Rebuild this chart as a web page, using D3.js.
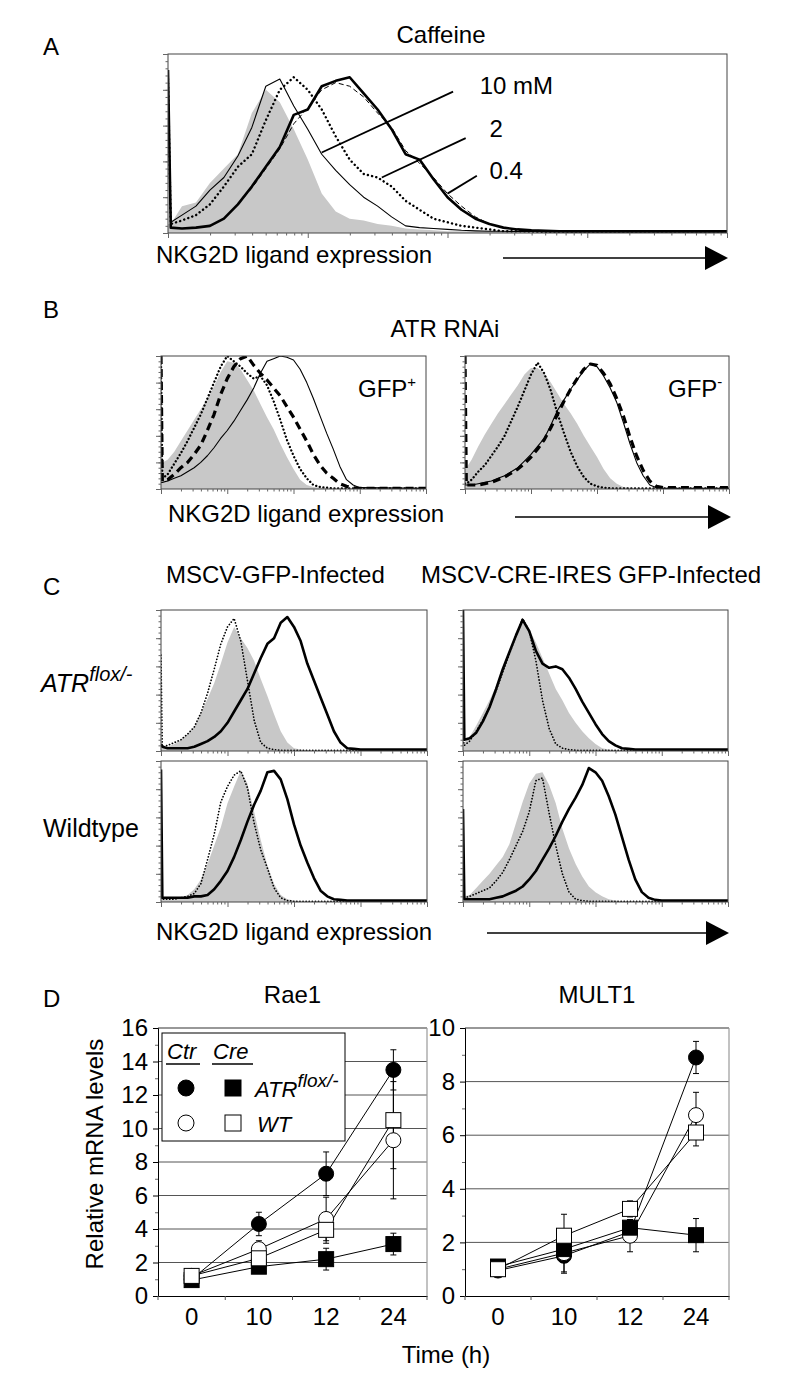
<!DOCTYPE html>
<html><head><meta charset="utf-8">
<script src="https://cdn.jsdelivr.net/npm/d3@7/dist/d3.min.js"></script>
<style>
html,body{margin:0;padding:0;background:#fff;}
svg text{font-family:"Liberation Sans",Arial,Helvetica,sans-serif;fill:#000;}
</style></head>
<body>
<svg id="fig" width="800" height="1388" viewBox="0 0 800 1388"></svg>
<script>
// ================= DATA =================
// histogram channel positions (log decades of fluorescence)
const bins = [0,0.02,0.1,0.2,0.3,0.4,0.5,0.6,0.7,0.8,0.9,1.0,1.1,1.2,1.3,1.4,1.5,1.6,1.7,1.8,1.9,2.0,2.1,2.2,2.3,2.4,2.5,2.6,2.7,2.8,2.9,3.0,4.0];

// Panel A: Caffeine (% of max events)
const caffGray   = [5,5, 15,17,28,36,44,67,80,73,58,41, 22,12,8,7,5,4,2.5,2,1.5,1, 1,1,1,0.8,0.8,0.7,0.7,0.6,0.6,0.6, 0.5];
const caff10mM   = [88,6, 10,15,24,31,43,59,82,86,71,58, 44,35,27,20,15,9,4,3,2.5,2, 1.5,1.2,1,1,0.8,0.8,0.7,0.7,0.6,0.6, 0.5];
const caff2mM    = [86,5, 7,10,16,26,37,44,63,80,87,80, 69,54,41,33,31,26,18,13,8,6, 4,3,2,1,1,0.8,0.7,0.7,0.6,0.6, 0.5];
const caffNone   = [91,3, 2.5,3,4,8,16,26,37,48,66,69, 82,85,87,78,69,58,44,41,30,20, 13,8,5,3,2,1.5,1.2,1,1,1, 1];
const caff04mM   = [90,3, 2.5,3,4,8,16,25,36,47,61,70, 80,84,82,76,67,59,46,39,31,22, 15,9,5,3,2,1.5,1.2,1,1,1, 1];

// Panel B: ATR RNAi, GFP+ and GFP-
const gfpPosGray   = [20,20, 22,28,36,44,52,60,68,77,88,96, 95,90,82,74,64,54,45,34,24,15, 7,3,1.5,1,0.5,0.5,0.5,0.5,0.5,0.5, 0.5];
const gfpPosDotted = [100,8, 11,19,27,36,46,56,68,80,92,100, 96,92,87,83,85,78,66,52,37,25, 15,8,3,1.5,1,0.5,0.5,0.5,0.5,0.5, 0.5];
const gfpPosDashed = [100,6, 7,11,16,20,26,33,44,56,71,83, 92,98,100,93,87,82,76,70,62,54, 45,36,26,18,12,8,4,2,1,0.5, 0.5];
const gfpPosThin   = [5,5, 6,8,10,13,16,20,25,31,38,44, 51,59,67,76,87,96,98,100,99,97, 90,80,68,55,42,30,17,7,3,1, 0.5];
const gfpNegGray   = [15,16, 22,32,41,49,57,64,71,78,86,91, 91,87,80,72,64,57,49,40,32,24, 15,8,4,1.5,1,0.5,0.5,0.5,0.5,0.5, 0.5];
const gfpNegDotted = [4,4, 7,13,18,25,32,40,51,62,74,86, 95,87,74,57,42,28,17,9,4,2, 1,0.5,0.5,0.5,0.5,0.5,0.5,0.5,0.5,0.5, 0.5];
const gfpNegThin   = [3,3, 3,4,5,6,8,10,13,16,21,26, 32,38,48,59,67,75,82,89,94,92, 85,76,65,50,34,20,10,3,1,0.5, 0.5];
const gfpNegDashed = [100,3, 3,3,4,5,7,9,12,15,19,24, 30,37,46,56,66,75,83,90,94,93, 87,79,68,55,39,25,14,6,2,1, 1];

// Panel C: ATRflox/- and wildtype cells, MSCV-GFP vs MSCV-CRE-IRES GFP
const gfpFloxGray   = [2,2, 3,5,8,12,17,27,37,48,62,77, 88,80,73,64,51,39,26,14,6,2, 1,0.5,0.5,0.5,0.5,0.5,0.5,0.5,0.5,0.5, 0.5];
const gfpFloxDotted = [68,3, 4,6,8,12,17,27,41,58,76,88, 94,78,50,22,6,2,1,0.5,0.5,0.5, 0.5,0.5,0.5,0.5,0.5,0.5,0.5,0.5,0.5,0.5, 0.5];
const gfpFloxThick  = [5,3, 2,2,2,2,3,5,7,10,14,20, 28,36,44,55,66,76,80,91,95,88, 78,62,50,38,26,14,6,2,1.5,1, 1];
const creFloxGray   = [5,6, 10,18,27,36,46,58,70,82,91,86, 77,66,55,44,36,27,20,14,9,5, 2,1,0.5,0.5,0.5,0.5,0.5,0.5,0.5,0.5, 0.5];
const creFloxDotted = [8,4, 7,14,22,31,43,56,69,82,94,85, 64,36,16,5,2,1,0.5,0.5,0.5,0.5, 0.5,0.5,0.5,0.5,0.5,0.5,0.5,0.5,0.5,0.5, 0.5];
const creFloxThick  = [100,8, 9,13,21,31,44,58,70,82,93,85, 71,62,59,60,58,52,44,35,27,19, 12,7,4,2,1.5,1,1,1,1,1, 1];
const gfpWtGray     = [2,2, 2,2,3,5,9,16,27,40,53,70, 82,93,84,64,44,26,13,5,2,1, 0.5,0.5,0.5,0.5,0.5,0.5,0.5,0.5,0.5,0.5, 0.5];
const gfpWtDotted   = [3,2, 2,2,3,4,6,13,30,48,71,82, 90,93,81,56,37,24,10,3,1,0.5, 0.5,0.5,0.5,0.5,0.5,0.5,0.5,0.5,0.5,0.5, 0.5];
const gfpWtThick    = [94,3, 3,3,3,3,4,4,5,9,15,22, 32,44,57,69,79,92,93,87,73,55, 40,28,17,8,4,2,1.5,1,1,1, 1];
const creWtGray     = [3,4, 5,10,15,20,26,32,41,56,71,84, 91,92,83,70,52,38,27,18,11,7, 4,2,1,0.5,0.5,0.5,0.5,0.5,0.5,0.5, 0.5];
const creWtDotted   = [5,3, 4,6,8,10,15,21,30,40,50,64, 86,88,63,40,20,7,2,1,0.5,0.5, 0.5,0.5,0.5,0.5,0.5,0.5,0.5,0.5,0.5,0.5, 0.5];
const creWtThick    = [66,2, 2,2,2,2,3,4,6,8,11,16, 22,30,38,47,57,66,74,83,95,92, 86,75,62,46,30,16,7,3,1.5,1, 1];

// Panel D: relative mRNA levels
const times = ["0","10","12","24"];
const rae1CtrFlox = [1.0, 4.3, 7.3, 13.5];   const rae1CtrFloxErr = [0.15, 0.7, 1.3, 1.2];
const rae1CreFlox = [0.95, 1.75, 2.2, 3.1];  const rae1CreFloxErr = [0.1, 0.2, 0.65, 0.65];
const rae1CtrWT   = [1.2, 2.8, 4.6, 9.3];    const rae1CtrWTErr   = [0.15, 0.5, 1.3, 3.5];
const rae1CreWT   = [1.2, 2.25, 3.95, 10.5]; const rae1CreWTErr   = [0.1, 0.3, 0.8, 2.9];
const mult1CtrFlox = [0.95, 1.5, 2.4, 8.9];  const mult1CtrFloxErr = [0.1, 0.6, 0.4, 0.6];
const mult1CreFlox = [1.1, 1.75, 2.55, 2.27];const mult1CreFloxErr = [0.1, 0.5, 0.3, 0.62];
const mult1CtrWT   = [1.0, 1.6, 2.25, 6.75]; const mult1CtrWTErr   = [0.1, 0.75, 0.6, 0.85];
const mult1CreWT   = [1.0, 2.25, 3.25, 6.1]; const mult1CreWTErr   = [0.1, 0.8, 0.3, 0.5];
const rae1Ticks  = [0,2,4,6,8,10,12,14,16];
const mult1Ticks = [0,2,4,6,8,10];

// ================= DRAWING =================
const svg = d3.select("#fig");
svg.append("rect").attr("width",800).attr("height",1388).attr("fill","#fff");
const FS = 24;

function txt(x, y, s, o = {}) {
  const t = svg.append("text").attr("x", x).attr("y", y)
    .attr("font-size", o.size || FS)
    .attr("text-anchor", o.anchor || "start")
    .attr("font-style", o.italic ? "italic" : null)
    .text(s);
  if (o.sup) {
    t.append("tspan").attr("dy", o.supDy || -10).attr("font-size", o.supSize || 15).text(o.sup);
  }
  return t;
}
function arrow(x1, x2, y) {
  svg.append("line").attr("x1", x1).attr("x2", x2 - 18).attr("y1", y).attr("y2", y)
    .attr("stroke", "#000").attr("stroke-width", 1.6);
  svg.append("path").attr("d", `M${x2},${y} L${x2-23},${y-12} L${x2-23},${y+12} Z`).attr("fill", "#000");
}

const STY = {
  fill:   {fill: true},
  thin:   {sw: 1.1},
  thick:  {sw: 2.6},
  dashT:  {sw: 1, dash: "5,3"},
  dotA:   {sw: 2.4, dash: "0.1,4.2", cap: "round"},
  dotB:   {sw: 2.3, dash: "0.1,3.6", cap: "round"},
  dashB:  {sw: 3.2, dash: "8,5"},
  dotC:   {sw: 1.7, dash: "0.1,3", cap: "round"}
};

let clipCount = 0;
function histogram(box, curves) {
  const x = d3.scaleLinear().domain([0, 4]).range([box.x, box.x + box.w]);
  const y = d3.scaleLinear().domain([0, 100]).range([box.y + box.h, box.y]);
  const g = svg.append("g");
  const id = "clip" + (clipCount++);
  g.append("clipPath").attr("id", id).append("rect")
    .attr("x", box.x).attr("y", box.y).attr("width", box.w).attr("height", box.h);
  const inner = g.append("g").attr("clip-path", `url(#${id})`);
  curves.forEach(([vals, st]) => {
    if (st.fill) {
      inner.append("path").datum(vals).attr("fill", "#c8c8c8")
        .attr("d", d3.area().x((d, i) => x(bins[i])).y0(y(0)).y1(d => y(d)));
    } else {
      inner.append("path").datum(vals).attr("fill", "none").attr("stroke", "#000")
        .attr("stroke-width", st.sw).attr("stroke-dasharray", st.dash || null)
        .attr("stroke-linecap", st.cap || "butt").attr("stroke-linejoin", "round")
        .attr("d", d3.line().x((d, i) => x(bins[i])).y(d => y(d)));
    }
  });
  g.append("rect").attr("x", box.x).attr("y", box.y).attr("width", box.w).attr("height", box.h)
    .attr("fill", "none").attr("stroke", "#444").attr("stroke-width", 1);
  const clean = s => { s.select(".domain").remove(); s.selectAll("line").attr("stroke", "#666"); };
  g.append("g").attr("transform", `translate(${box.x},0)`)
    .call(d3.axisLeft(y).tickValues(d3.range(0, 101, 4)).tickSize(2.5).tickFormat("")).call(clean);
  g.append("g").attr("transform", `translate(${box.x},0)`)
    .call(d3.axisLeft(y).tickValues(d3.range(0, 101, 20)).tickSize(5).tickFormat("")).call(clean);
  const minor = [];
  for (let n = 0; n < 4; n++) for (let k = 2; k <= 9; k++) minor.push(n + Math.log10(k));
  g.append("g").attr("transform", `translate(0,${box.y + box.h})`)
    .call(d3.axisBottom(x).tickValues(minor).tickSize(2.5).tickFormat("")).call(clean);
  g.append("g").attr("transform", `translate(0,${box.y + box.h})`)
    .call(d3.axisBottom(x).tickValues([0, 1, 2, 3, 4]).tickSize(5).tickFormat("")).call(clean);
  return {x, y, g};
}

// ---------- Panel A ----------
txt(43, 55, "A");
txt(441, 43, "Caffeine", {anchor: "middle"});
const pA = histogram({x: 168, y: 54, w: 559, h: 179}, [
  [caffGray, STY.fill], [caff10mM, STY.thin], [caff2mM, STY.dotA],
  [caff04mM, STY.dashT], [caffNone, STY.thick]
]);
const annA = [
  {label: "10 mM", from: [1.10, 45], to: [2.04, 79], at: [2.23, 77.5]},
  {label: "2",     from: [1.53, 31], to: [2.13, 53], at: [2.30, 53.5]},
  {label: "0.4",   from: [2.00, 22], to: [2.21, 32], at: [2.30, 30]}
];
annA.forEach(a => {
  svg.append("line").attr("x1", pA.x(a.from[0])).attr("y1", pA.y(a.from[1]))
    .attr("x2", pA.x(a.to[0])).attr("y2", pA.y(a.to[1])).attr("stroke", "#000").attr("stroke-width", 1.8);
  txt(pA.x(a.at[0]), pA.y(a.at[1]), a.label);
});
txt(156, 263, "NKG2D ligand expression");
arrow(503, 728, 258);

// ---------- Panel B ----------
txt(43, 318, "B");
txt(445, 337, "ATR RNAi", {anchor: "middle"});
histogram({x: 161, y: 356, w: 265, h: 133}, [
  [gfpPosGray, STY.fill], [gfpPosThin, STY.thin], [gfpPosDotted, STY.dotB], [gfpPosDashed, STY.dashB]
]);
histogram({x: 465, y: 356, w: 264, h: 133}, [
  [gfpNegGray, STY.fill], [gfpNegDotted, STY.dotB], [gfpNegThin, STY.thin], [gfpNegDashed, STY.dashB]
]);
txt(358, 397, "GFP", {sup: "+", supDy: -10, supSize: 15});
txt(668, 397, "GFP", {sup: "-", supDy: -10, supSize: 15});
txt(168, 522, "NKG2D ligand expression");
arrow(515, 731, 517);

// ---------- Panel C ----------
txt(43, 595, "C");
txt(166, 583, "MSCV-GFP-Infected");
txt(421, 583, "MSCV-CRE-IRES GFP-Infected");
histogram({x: 161, y: 610, w: 266, h: 141}, [
  [gfpFloxGray, STY.fill], [gfpFloxDotted, STY.dotC], [gfpFloxThick, STY.thick]
]);
histogram({x: 463, y: 610, w: 265, h: 141}, [
  [creFloxGray, STY.fill], [creFloxDotted, STY.dotC], [creFloxThick, STY.thick]
]);
histogram({x: 161, y: 761, w: 266, h: 141}, [
  [gfpWtGray, STY.fill], [gfpWtDotted, STY.dotC], [gfpWtThick, STY.thick]
]);
histogram({x: 463, y: 761, w: 265, h: 141}, [
  [creWtGray, STY.fill], [creWtDotted, STY.dotC], [creWtThick, STY.thick]
]);
txt(41, 692, "ATR", {italic: true, size: 25, sup: "flox/-", supDy: -11, supSize: 20});
txt(43, 837, "Wildtype", {size: 25});
txt(156, 940, "NKG2D ligand expression");
arrow(487, 729, 933);

// ---------- Panel D ----------
txt(43, 1007, "D");
const SER = (v, e, shape, filled, key) => ({v, e, shape, filled, key});
function linePlot(box, ymax, yTicks, series, title) {
  const x = d3.scaleBand().domain(times).range([box.x, box.x + box.w]);
  const y = d3.scaleLinear().domain([0, ymax]).range([box.y + box.h, box.y]);
  const cx = t => x(t) + x.bandwidth() / 2;
  const g = svg.append("g");
  txt((box.x + box.x + box.w) / 2, 1003, title, {anchor: "middle"});
  g.selectAll(".grid").data(yTicks.filter(t => t > 0 && t < ymax)).join("line")
    .attr("x1", box.x).attr("x2", box.x + box.w).attr("y1", d => y(d)).attr("y2", d => y(d))
    .attr("stroke", "#555").attr("stroke-width", 1);
  g.append("line").attr("x1", box.x).attr("x2", box.x + box.w).attr("y1", y(ymax)).attr("y2", y(ymax))
    .attr("stroke", "#333").attr("stroke-width", 1.2);
  g.append("line").attr("x1", box.x + box.w).attr("x2", box.x + box.w).attr("y1", y(ymax)).attr("y2", y(0))
    .attr("stroke", "#999").attr("stroke-width", 1.2);
  const ya = g.append("g").attr("transform", `translate(${box.x},0)`)
    .call(d3.axisLeft(y).tickValues(d3.range(1, ymax, 2)).tickSize(3).tickFormat(""));
  ya.select(".domain").remove();
  ya.selectAll("line").attr("stroke", "#666");
  const yb = g.append("g").attr("transform", `translate(${box.x},0)`)
    .call(d3.axisLeft(y).tickValues(yTicks).tickSize(5).tickPadding(5));
  yb.select(".domain").attr("stroke", "#000");
  yb.selectAll("text").attr("font-size", FS).attr("font-family", null);
  const xb = g.append("g").attr("transform", `translate(0,${box.y + box.h})`)
    .call(d3.axisBottom(x).tickSize(0).tickPadding(12));
  xb.select(".domain").attr("stroke", "#000");
  xb.selectAll("text").attr("font-size", FS).attr("font-family", null);
  g.selectAll(".bt").data(d3.range(times.length + 1)).join("line")
    .attr("x1", i => box.x + i * x.step()).attr("x2", i => box.x + i * x.step())
    .attr("y1", y(0)).attr("y2", y(0) + 4).attr("stroke", "#555");
  series.forEach(s => {
    g.append("path").datum(s.v).attr("fill", "none").attr("stroke", "#000").attr("stroke-width", 1)
      .attr("d", d3.line().x((d, i) => cx(times[i])).y(d => y(d)));
  });
  series.forEach(s => {
    s.v.forEach((val, i) => {
      const px = cx(times[i]);
      const lo = y(val - s.e[i]), hi = y(val + s.e[i]);
      g.append("line").attr("x1", px).attr("x2", px).attr("y1", lo).attr("y2", hi).attr("stroke", "#000").attr("stroke-width", 1);
      [lo, hi].forEach(yy => g.append("line").attr("x1", px - 3).attr("x2", px + 3).attr("y1", yy).attr("y2", yy)
        .attr("stroke", "#000").attr("stroke-width", 1));
    });
  });
  series.forEach(s => {
    s.v.forEach((val, i) => marker(g, s.shape, s.filled, cx(times[i]), y(val), 7.5));
  });
  return {x, y, g};
}
function marker(g, shape, filled, px, py, r) {
  const el = shape === "circle"
    ? g.append("circle").attr("cx", px).attr("cy", py).attr("r", r)
    : g.append("rect").attr("x", px - r).attr("y", py - r).attr("width", 2 * r).attr("height", 2 * r);
  el.attr("fill", filled ? "#000" : "#fff").attr("stroke", "#000").attr("stroke-width", 1);
}

linePlot({x: 158, y: 1028, w: 269, h: 268}, 16, rae1Ticks, [
  SER(rae1CtrFlox, rae1CtrFloxErr, "circle", true),
  SER(rae1CreFlox, rae1CreFloxErr, "square", true),
  SER(rae1CtrWT, rae1CtrWTErr, "circle", false),
  SER(rae1CreWT, rae1CreWTErr, "square", false)
], "Rae1");
linePlot({x: 465, y: 1028, w: 264, h: 268}, 10, mult1Ticks, [
  SER(mult1CtrFlox, mult1CtrFloxErr, "circle", true),
  SER(mult1CtrWT, mult1CtrWTErr, "circle", false),
  SER(mult1CreFlox, mult1CreFloxErr, "square", true),
  SER(mult1CreWT, mult1CreWTErr, "square", false)
], "MULT1");

// legend
const lg = svg.append("g");
lg.append("rect").attr("x", 162).attr("y", 1033).attr("width", 183).attr("height", 108)
  .attr("fill", "#fff").attr("stroke", "#000").attr("stroke-width", 1);
txt(167, 1059, "Ctr", {italic: true, size: 22});
txt(213, 1059, "Cre", {italic: true, size: 22});
[[166, 200], [212, 253]].forEach(([a, b]) =>
  lg.append("line").attr("x1", a).attr("x2", b).attr("y1", 1064).attr("y2", 1064).attr("stroke", "#000").attr("stroke-width", 1.3));
marker(lg, "circle", true, 186, 1088, 8);
marker(lg, "square", true, 233, 1088, 8);
marker(lg, "circle", false, 186, 1123, 8);
marker(lg, "square", false, 233, 1123, 8);
txt(255, 1097, "ATR", {italic: true, size: 22, sup: "flox/-", supDy: -10, supSize: 19});
txt(257, 1132, "WT", {italic: true, size: 22});

svg.append("text").attr("transform", "translate(103,1154) rotate(-90)")
  .attr("text-anchor", "middle").attr("font-size", FS).text("Relative mRNA levels");
txt(446, 1363, "Time (h)", {anchor: "middle"});
</script>
</body></html>
